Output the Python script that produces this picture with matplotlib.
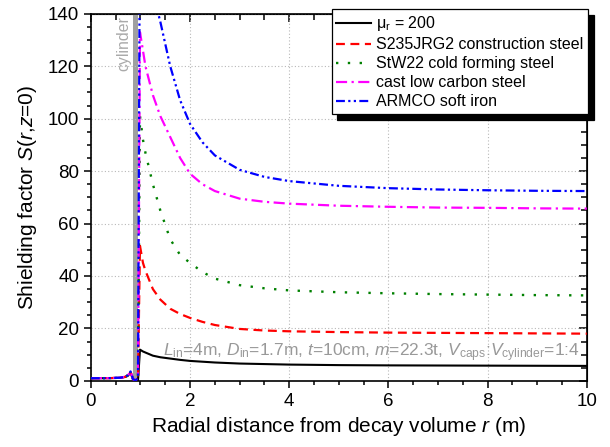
import matplotlib.pyplot as plt
from matplotlib.ticker import MultipleLocator

plt.rcParams['font.family'] = ['Liberation Sans', 'DejaVu Sans']
plt.rcParams['mathtext.fontset'] = 'custom'
plt.rcParams['mathtext.rm'] = 'Liberation Sans'
plt.rcParams['mathtext.it'] = 'Liberation Sans:italic'

# radial positions (m)
r = [0, 0.2, 0.4, 0.6, 0.7, 0.75, 0.8, 0.85, 0.9, 0.95, 0.99, 1.05, 1.1,
     1.25, 1.4, 1.6, 1.8, 2.0, 2.25, 2.5, 3.0, 3.5, 4.0, 5.0, 6.0, 7.0,
     8.0, 9.0, 10.0]

# shielding factor for each material
s_mu200 = [1.0, 1.0, 1.05, 1.2, 1.5, 2.0, 3.2, 0.5, 0.1, 0.2, 11.9, 11.2, 10.8,
           9.6, 9.0, 8.5, 8.0, 7.6, 7.3, 7.0, 6.6, 6.4, 6.2, 6.0, 5.9, 5.85,
           5.8, 5.75, 5.7]
s_s235 = [1.0, 1.0, 1.05, 1.2, 1.6, 2.2, 3.5, 0.6, 0.2, 1.0, 51.5, 45.0, 42.0,
          35.0, 31.0, 27.5, 25.5, 24.0, 22.5, 21.3, 19.8, 19.2, 18.9, 18.6,
          18.4, 18.3, 18.2, 18.1, 18.0]
s_stw22 = [1.0, 1.0, 1.05, 1.2, 1.6, 2.2, 3.6, 0.6, 0.2, 1.0, 101.0, 92.0, 87.0,
           75.0, 65.0, 54.0, 48.0, 45.0, 41.5, 39.0, 36.5, 35.3, 34.5, 33.8,
           33.4, 33.1, 32.9, 32.7, 32.6]
s_cast = [1.0, 1.0, 1.05, 1.2, 1.6, 2.2, 3.6, 0.6, 0.2, 1.0, 133.0, 126.0, 120.0,
          109.0, 101.0, 93.0, 85.0, 79.0, 75.0, 72.4, 69.5, 68.3, 67.6, 66.8,
          66.4, 66.1, 66.0, 65.8, 65.7]
s_armco = [1.0, 1.0, 1.05, 1.2, 1.6, 2.2, 3.6, 0.6, 0.2, 1.0, 185.0, 175.0, 165.0,
           148.0, 137.0, 120.0, 107.0, 98.0, 91.0, 86.0, 80.5, 77.8, 76.2, 74.4,
           73.5, 73.0, 72.7, 72.5, 72.4]

fig = plt.figure(figsize=(6.10, 4.47), dpi=100)
ax = fig.add_axes([0.149, 0.148, 0.813, 0.821])

# steel wall of the decay volume
ax.axvspan(0.85, 0.95, color='#a0a0a0', lw=0, zorder=1)
ax.text(0.66, 139, 'cylinder', rotation=90, ha='center', va='top',
        fontsize=11.4, color='#aaaaaa', zorder=2)

ax.plot(r, s_mu200, color='black', lw=1.5, label=r'μ$_{\rm r}$ = 200', zorder=3)
ax.plot(r, s_s235, color='red', lw=1.6, ls=(0, (4, 2.5)),
        label='S235JRG2 construction steel', zorder=3)
ax.plot(r, s_stw22, color='#008000', lw=1.7, ls=(0, (1, 4)),
        label='StW22 cold forming steel', zorder=3)
ax.plot(r, s_cast, color='magenta', lw=1.6, ls=(0, (5, 2, 1, 2)),
        label='cast low carbon steel', zorder=3)
ax.plot(r, s_armco, color='blue', lw=1.6, ls=(0, (4, 1.5, 1, 1.5, 1, 1.5)),
        label='ARMCO soft iron', zorder=3)

ax.text(1.45, 9.5, r'$L_{\rm in}$=4m, $D_{\rm in}$=1.7m, $t$=10cm, $m$=22.3t, '
        r'$V_{\rm caps}$:$V_{\rm cylinder}$=1:4',
        fontsize=12.5, color='#999999', ha='left', va='baseline', zorder=2)

ax.set_xlim(0, 10)
ax.set_ylim(0, 140)
ax.xaxis.set_major_locator(MultipleLocator(2))
ax.xaxis.set_minor_locator(MultipleLocator(0.5))
ax.yaxis.set_major_locator(MultipleLocator(20))
ax.yaxis.set_minor_locator(MultipleLocator(5))
ax.tick_params(which='both', direction='out', labelsize=13.5, width=1.1)
ax.tick_params(which='major', length=5)
ax.tick_params(which='minor', length=3)
ax.grid(True, which='major', color='#b8b8b8', ls=(0, (1, 2)), lw=0.8)
for sp in ax.spines.values():
    sp.set_linewidth(1.2)

# inward ticks on the opposite sides
top = ax.secondary_xaxis('top')
top.xaxis.set_major_locator(MultipleLocator(2))
top.xaxis.set_minor_locator(MultipleLocator(0.5))
top.tick_params(which='both', direction='in', labeltop=False, width=1.1)
top.tick_params(which='major', length=6)
top.tick_params(which='minor', length=4)
right = ax.secondary_yaxis('right')
right.yaxis.set_major_locator(MultipleLocator(20))
right.yaxis.set_minor_locator(MultipleLocator(5))
right.tick_params(which='both', direction='in', labelright=False, width=1.1)
right.tick_params(which='major', length=6)
right.tick_params(which='minor', length=4)

ax.set_xlabel(r'Radial distance from decay volume $r$ (m)', fontsize=15, labelpad=4)
ax.set_ylabel(r'Shielding factor $S$($r$,$z$=0)', fontsize=15, labelpad=6)

leg = ax.legend(loc='upper right', bbox_to_anchor=(1.003, 1.012), borderaxespad=0,
                fontsize=11.5, fancybox=False, framealpha=1, edgecolor='black',
                handlelength=2.2, handletextpad=0.3, labelspacing=0.25,
                borderpad=0.3, shadow={'color': 'black', 'alpha': 1, 'ox': 4, 'oy': -4})
leg.get_frame().set_linewidth(0.9)
leg.set_zorder(5)

fig.savefig('out.png', dpi=100)
